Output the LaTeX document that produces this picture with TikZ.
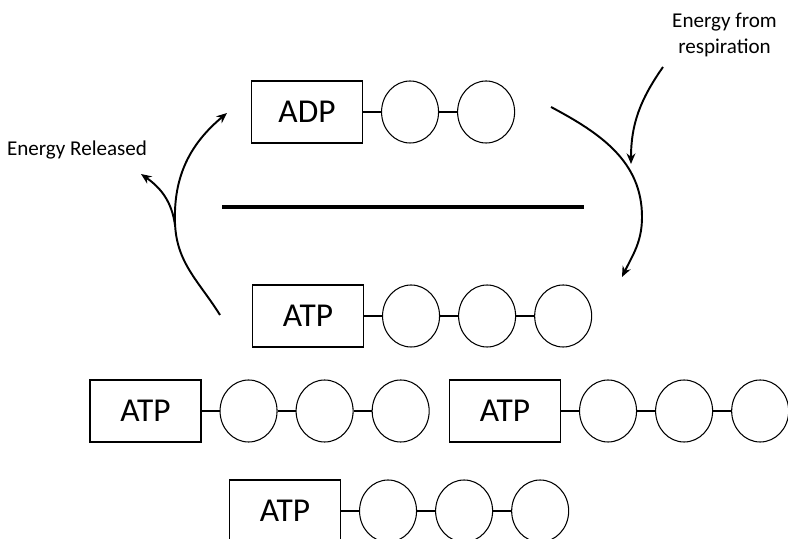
\documentclass[tikz,border=0pt]{standalone}
\usepackage{fontspec}
\setmainfont{Carlito}
\usetikzlibrary{arrows.meta, positioning, shapes.geometric}

\begin{document}
\begin{tikzpicture}[
    node distance=0.36cm,
    base/.style={draw, line width=0.6pt, minimum width=2.22cm, minimum height=1.24cm, inner sep=0, font=\fontsize{19}{21}\selectfont},
    phos/.style={draw, ellipse, line width=0.6pt, minimum width=1.14cm, minimum height=1.24cm, inner sep=0},
    bond/.style={line width=0.6pt},
    cycle/.style={line width=1.1pt, -{Stealth[length=6pt, width=5pt]}},
    note/.style={font=\fontsize{12}{14.7}\selectfont, align=center}
]
\useasboundingbox (0,0) rectangle (15.76,-10.78);
\clip (0,0) rectangle (15.76,-10.78);

% ADP at the top
\node[base] (adp) at (6.14,-2.24) {ADP};
\node[phos, right=of adp] (adp1) {};
\node[phos, right=of adp1] (adp2) {};
\draw[bond] (adp) -- (adp1);
\draw[bond] (adp1) -- (adp2);

\draw[line width=2.2pt] (4.44,-4.14) -- (11.68,-4.14);

% ATP molecules
\node[base] (atpa) at (6.16,-6.32) {ATP};
\node[phos, right=of atpa] (atpa1) {};
\node[phos, right=of atpa1] (atpa2) {};
\node[phos, right=of atpa2] (atpa3) {};
\draw[bond] (atpa) -- (atpa1);
\draw[bond] (atpa1) -- (atpa2);
\draw[bond] (atpa2) -- (atpa3);

\node[base] (atpb) at (2.91,-8.22) {ATP};
\node[phos, right=of atpb] (atpb1) {};
\node[phos, right=of atpb1] (atpb2) {};
\node[phos, right=of atpb2] (atpb3) {};
\draw[bond] (atpb) -- (atpb1);
\draw[bond] (atpb1) -- (atpb2);
\draw[bond] (atpb2) -- (atpb3);

\node[base] (atpc) at (10.10,-8.22) {ATP};
\node[phos, right=of atpc] (atpc1) {};
\node[phos, right=of atpc1] (atpc2) {};
\node[phos, right=of atpc2] (atpc3) {};
\draw[bond] (atpc) -- (atpc1);
\draw[bond] (atpc1) -- (atpc2);
\draw[bond] (atpc2) -- (atpc3);

\node[base] (atpd) at (5.70,-10.22) {ATP};
\node[phos, right=of atpd] (atpd1) {};
\node[phos, right=of atpd1] (atpd2) {};
\node[phos, right=of atpd2] (atpd3) {};
\draw[bond] (atpd) -- (atpd1);
\draw[bond] (atpd1) -- (atpd2);
\draw[bond] (atpd2) -- (atpd3);

% energy labels
\node[note] (resp) at (14.49,-0.70) {Energy from\\respiration};
\node[note] (rel) at (1.54,-3.00) {Energy Released};

% cycle arrows
\coordinate (respS) at (13.26,-1.34);
\coordinate (respE) at (12.62,-3.28);
\draw[cycle] (respS) to[out=-125,in=90] (respE);

\coordinate (synS) at (11.02,-2.14);
\coordinate (synM) at (12.84,-4.34);
\coordinate (synE) at (12.44,-5.54);
\draw[cycle] (synS) to[out=-28,in=90] (synM) to[out=-90,in=64] (synE);

\coordinate (hydS) at (4.40,-6.30);
\coordinate (hydM) at (3.50,-4.46);
\coordinate (hydE) at (4.54,-2.26);
\draw[cycle] (hydS) to[out=122,in=-88] (hydM) to[out=92,in=-140] (hydE);

\coordinate (relS) at (3.50,-4.50);
\coordinate (relE) at (2.82,-3.48);
\draw[cycle] (relS) to[out=98,in=-35] (relE);
\end{tikzpicture}
\end{document}
